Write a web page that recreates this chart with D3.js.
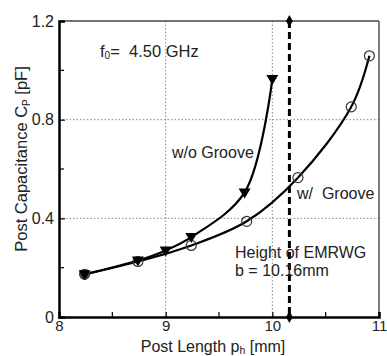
<!DOCTYPE html>
<meta charset="utf-8">
<style>
body { margin: 0; background: #fff; }
text { font-family: Arial, "Liberation Sans", sans-serif; fill: #222; white-space: pre; }
.tick text { font-size: 16px; }
.grid line { stroke: #888; stroke-dasharray: 1.5,2; stroke-width: 1; }
.curve { fill: none; stroke: #000; stroke-width: 2.2px; }
</style>
<svg width="387" height="356"></svg>
<script src="https://cdn.jsdelivr.net/npm/d3@7"></script>
<script>

// w/o Groove (triangles)
var woX = [8.24, 8.74, 9.0, 9.24, 9.74, 10.0];
var woY = [0.173, 0.229, 0.27, 0.324, 0.505, 0.965];

// w/ Groove (circles)
var wX = [8.24, 8.74, 9.24, 9.76, 10.24, 10.74, 10.91];
var wY = [0.173, 0.225, 0.29, 0.388, 0.565, 0.852, 1.059];

var xTicks = [8, 9, 10, 11];
var yTicks = [0, 0.4, 0.8, 1.2];
var xMinor = [8.5, 9.5, 10.5];
var yMinor = [0.2, 0.6, 1.0];
var bHeight = 10.16;

var svg = d3.select("svg"),
    pL = 59, pR = 379, pT = 21, pB = 317;

var x = d3.scaleLinear().domain([8, 11]).range([pL, pR]);
var y = d3.scaleLinear().domain([0, 1.2]).range([pB, pT]);

// grid
var grid = svg.append("g").attr("class", "grid");
grid.selectAll(".gx").data([9, 10]).enter().append("line")
    .attr("x1", d => x(d)).attr("x2", d => x(d)).attr("y1", pT).attr("y2", pB);
grid.selectAll(".gy").data([0.4, 0.8]).enter().append("line")
    .attr("y1", d => y(d)).attr("y2", d => y(d)).attr("x1", pL).attr("x2", pR);

// frame: top & right thinner grey
svg.append("line").attr("x1", pL).attr("x2", pR).attr("y1", pT).attr("y2", pT)
    .attr("stroke", "#444").attr("stroke-width", 1.3);
svg.append("line").attr("x1", pR).attr("x2", pR).attr("y1", pT).attr("y2", pB)
    .attr("stroke", "#555").attr("stroke-width", 1.5);

// axes
var xAxis = svg.append("g").attr("transform", "translate(0," + pB + ")")
    .call(d3.axisBottom(x).tickValues(xTicks).tickSize(-5).tickPadding(3).tickFormat(d3.format("d")));
var yAxis = svg.append("g").attr("transform", "translate(" + pL + ",0)")
    .call(d3.axisLeft(y).tickValues(yTicks).tickSize(-6).tickPadding(5).tickFormat(d => d === 0 ? "0" : d3.format(".1f")(d)));
[xAxis, yAxis].forEach(function(a) {
  a.select(".domain").attr("stroke", "#000").attr("stroke-width", 2.5);
  a.selectAll(".tick line").attr("stroke", "#000").attr("stroke-width", 1.2);
  a.selectAll(".tick text").attr("fill", "#222");
});
xAxis.selectAll(".tick text").style("font-size", "15px");
xAxis.selectAll(".minor").data(xMinor).enter().append("line")
    .attr("x1", d => x(d)).attr("x2", d => x(d)).attr("y1", 0).attr("y2", -5)
    .attr("stroke", "#000").attr("stroke-width", 1.2);
yAxis.selectAll(".minor").data(yMinor).enter().append("line")
    .attr("y1", d => y(d)).attr("y2", d => y(d)).attr("x1", 0).attr("x2", 5)
    .attr("stroke", "#000").attr("stroke-width", 1.2);

// EMRWG height line
svg.append("line").attr("x1", x(bHeight)).attr("x2", x(bHeight)).attr("y1", pT).attr("y2", pB)
    .attr("stroke", "#000").attr("stroke-width", 3).attr("stroke-dasharray", "7,4");
svg.selectAll(".dia").data([pT, pB]).enter().append("path")
    .attr("d", d3.symbol().type(d3.symbolDiamond).size(40))
    .attr("transform", d => "translate(" + x(bHeight) + "," + d + ")")
    .attr("fill", "#000");

var line = d3.line().curve(d3.curveCatmullRom.alpha(0.5)).x(d => x(d[0])).y(d => y(d[1]));

var wo = woX.map((v, i) => [v, woY[i]]);
var w = wX.map((v, i) => [v, wY[i]]);

svg.append("path").datum(w).attr("class", "curve").attr("d", line);
svg.append("path").datum(wo).attr("class", "curve").attr("d", line);

svg.selectAll(".circ").data(w).enter().append("circle")
    .attr("cx", d => x(d[0])).attr("cy", d => y(d[1])).attr("r", 5)
    .attr("fill", "none").attr("stroke", "#333").attr("stroke-width", 1.2);
svg.append("circle").attr("cx", x(w[0][0])).attr("cy", y(w[0][1])).attr("r", 5).attr("fill", "#444");

svg.selectAll(".tri").data(wo).enter().append("path")
    .attr("d", "M-6,-4L6,-4L0,6Z")
    .attr("transform", d => "translate(" + x(d[0]) + "," + y(d[1]) + ")")
    .attr("fill", "#000");

// labels
var f0 = svg.append("text").attr("x", 100).attr("y", 57).attr("font-size", 16.5);
f0.append("tspan").text("f");
f0.append("tspan").attr("font-size", 10).attr("dy", 2).text("0");
f0.append("tspan").attr("dy", -2).text("=  4.50 GHz");

svg.append("text").attr("x", 172).attr("y", 158).attr("font-size", 16).text("w/o Groove");
svg.append("text").attr("x", 297).attr("y", 199).attr("font-size", 16).text("w/  Groove");
svg.append("text").attr("x", 235).attr("y", 258).attr("font-size", 16).text("Height of EMRWG");
svg.append("text").attr("x", 235).attr("y", 276).attr("font-size", 16).text("b = 10.16mm");

var xt = svg.append("text").attr("x", 213).attr("y", 352).attr("text-anchor", "middle").attr("font-size", 16);
xt.append("tspan").text("Post Length p");
xt.append("tspan").attr("font-size", 10.5).attr("dy", 2).text("h");
xt.append("tspan").attr("dy", -2).text(" [mm]");

var yt = svg.append("text").attr("transform", "translate(27,159) rotate(-90)")
    .attr("text-anchor", "middle").attr("font-size", 16.5);
yt.append("tspan").text("Post Capacitance C");
yt.append("tspan").attr("font-size", 10).attr("dy", 3).text("P");
yt.append("tspan").attr("dy", -3).text(" [pF]");

</script>
